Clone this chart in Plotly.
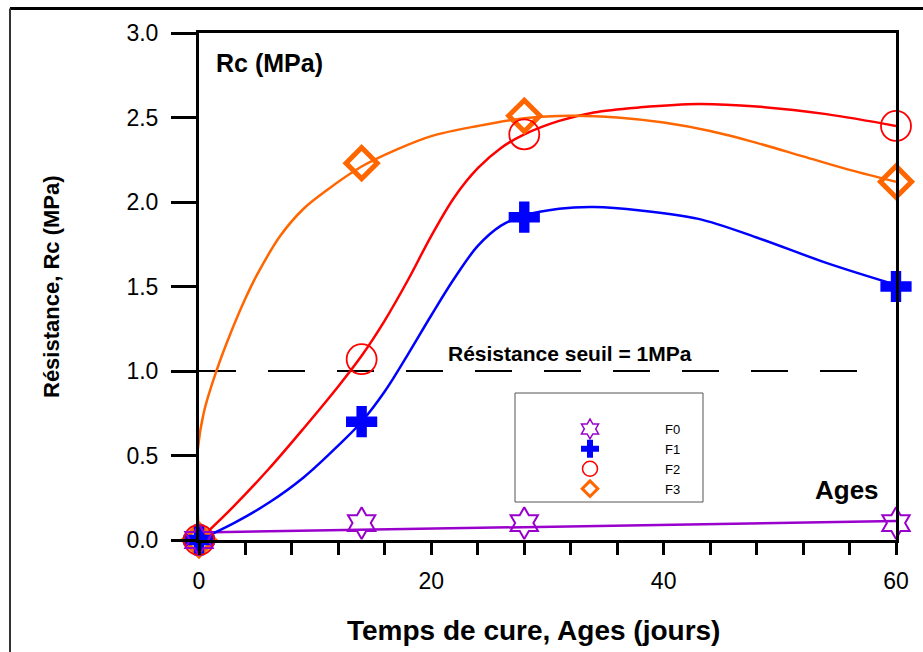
import plotly.graph_objects as go

# ---- data ----
ages = [0, 14, 28, 60]
F0 = [0.0, 0.10, 0.10, 0.10]
F1 = [0.0, 0.70, 1.91, 1.50]
F2 = [0.0, 1.07, 2.40, 2.45]
F3 = [0.0, 2.23, 2.51, 2.12]

# fitted curves
f0_cx = [0, 60]
f0_cy = [0.045, 0.112]
f1_cx = [0, 3, 6, 9, 12, 14, 16, 18, 20, 22, 24, 26, 28, 31, 34, 38, 43, 48, 54, 60]
f1_cy = [0, 0.10, 0.22, 0.37, 0.56, 0.70, 0.88, 1.10, 1.33, 1.55, 1.74, 1.86, 1.92, 1.96, 1.97, 1.95, 1.90, 1.79, 1.64, 1.51]
f2_cx = [0, 3, 6, 9, 12, 14, 16, 18, 20, 22, 24, 26, 28, 31, 34, 38, 43, 48, 54, 60]
f2_cy = [0, 0.20, 0.42, 0.66, 0.91, 1.09, 1.30, 1.54, 1.80, 2.03, 2.20, 2.32, 2.40, 2.48, 2.53, 2.56, 2.58, 2.565, 2.52, 2.45]
f3_cx = [0, -0.15, -0.15, 0.4, 1.5, 2.7, 4, 5, 7, 9, 11, 14, 17, 20, 24, 28, 32, 36, 40, 44, 48, 52, 56, 60]
f3_cy = [0, 0.25, 0.50, 0.75, 1.0, 1.22, 1.43, 1.57, 1.80, 1.96, 2.07, 2.21, 2.31, 2.39, 2.45, 2.495, 2.51, 2.50, 2.47, 2.42, 2.35, 2.27, 2.19, 2.12]

seuil = 1.0
seuil_x = [0, 57]

names = ["F0", "F1", "F2", "F3"]
colors = ["#9900CC", "#0000FF", "#FF0000", "#FF6600"]

FONT = "Arial, Liberation Sans, sans-serif"

fig = go.Figure()

curves = [(f0_cx, f0_cy), (f1_cx, f1_cy), (f2_cx, f2_cy), (f3_cx, f3_cy)]
for (cx, cy), c in zip(curves, colors):
    fig.add_trace(go.Scatter(x=cx, y=cy, mode="lines", showlegend=False,
                             line=dict(color=c, width=2.5, shape="spline", smoothing=1.0),
                             cliponaxis=False, hoverinfo="skip"))

markers = [
    dict(symbol="hexagram-open", size=24, color=colors[0], line=dict(color=colors[0], width=2)),
    dict(symbol="cross", size=26, color=colors[1], line=dict(width=0)),
    dict(symbol="circle-open", size=30, color=colors[2], line=dict(color=colors[2], width=1.8)),
    dict(symbol="diamond-open", size=24, color=colors[3], line=dict(color=colors[3], width=5)),
]
legend_markers = [
    dict(symbol="hexagram-open", size=15, color=colors[0], line=dict(color=colors[0], width=1.5)),
    dict(symbol="cross", size=15, color=colors[1], line=dict(width=0)),
    dict(symbol="circle-open", size=15, color=colors[2], line=dict(color=colors[2], width=1.5)),
    dict(symbol="diamond-open", size=12, color=colors[3], line=dict(color=colors[3], width=3)),
]
series = [F0, F1, F2, F3]
order = [3, 1, 2, 0]
for i in order:
    fig.add_trace(go.Scatter(x=ages, y=series[i], mode="markers", name=names[i], showlegend=False,
                             marker=markers[i], cliponaxis=False))
for i in range(4):
    fig.add_trace(go.Scatter(x=[None], y=[None], mode="markers", name=names[i],
                             marker=legend_markers[i], legendrank=i + 1))

# plot-area pixel geometry helpers
L, R, T, B = 199, 27, 33, 112
W, H = 923, 652
PW, PH = W - L - R, H - T - B
def px(xp):
    return (xp - L) / PW
def py(yp):
    return (H - B - yp) / PH

fig.add_shape(type="line", xref="x", yref="y", x0=seuil_x[0], x1=seuil_x[1], y0=seuil, y1=seuil,
              line=dict(color="black", width=2, dash="37px,32px"), layer="below")

# legend box
fig.add_shape(type="rect", xref="paper", yref="paper", x0=px(515), x1=px(703), y0=py(502), y1=py(393),
              line=dict(color="#555555", width=1))
# outer frame
fig.add_shape(type="line", xref="paper", yref="paper", x0=px(10), x1=px(930), y0=py(8.5), y1=py(8.5),
              line=dict(color="black", width=3))
fig.add_shape(type="line", xref="paper", yref="paper", x0=px(10), x1=px(10), y0=py(8.5), y1=py(660),
              line=dict(color="#333333", width=2))

ann = [
    dict(text="<b>Rc (MPa)</b>", x=px(214), y=py(63), xanchor="left", yanchor="middle", size=25),
    dict(text="<b>Ages</b>", x=px(881), y=py(490), xanchor="right", yanchor="middle", size=26),
    dict(text="<b>Résistance seuil = 1MPa</b>", x=px(446), y=py(353), xanchor="left", yanchor="middle", size=21),
    dict(text="<b>Temps de cure, Ages (jours)</b>", x=px(533), y=py(630), xanchor="center", yanchor="middle", size=28),
]
for a in ann:
    fig.add_annotation(text=a["text"], x=a["x"], y=a["y"], xref="paper", yref="paper",
                       xanchor=a["xanchor"], yanchor=a["yanchor"], showarrow=False,
                       font=dict(family=FONT, size=a["size"], color="black"))
fig.add_annotation(text="<b>Résistance, Rc (MPa)</b>", x=px(51.5), y=py(286.5), xref="paper", yref="paper",
                   xanchor="center", yanchor="middle", textangle=-90, showarrow=False,
                   font=dict(family=FONT, size=22, color="black"))

fig.update_layout(
    width=W, height=H,
    margin=dict(l=L, r=R, t=T, b=B, autoexpand=False),
    paper_bgcolor="white", plot_bgcolor="white",
    font=dict(family=FONT, color="black"),
    legend=dict(x=px(515), y=py(414), xanchor="left", yanchor="top",
                bgcolor="rgba(0,0,0,0)", borderwidth=0, itemwidth=140,
                font=dict(family=FONT, size=13, color="black"), tracegroupgap=0),
    xaxis=dict(range=[0, 60], tickvals=[0, 20, 40, 60], ticks="outside", ticklen=12, tickwidth=2.5,
               tickcolor="black", showline=True, linewidth=3, linecolor="black", mirror=True,
               showgrid=False, zeroline=False, tickfont=dict(family=FONT, size=23, color="black"),
               minor=dict(dtick=4, tick0=0, ticks="outside", ticklen=12, tickwidth=2.5, tickcolor="black",
                          showgrid=False),
               ticklabelstandoff=6),
    yaxis=dict(range=[0, 3], tickvals=[0, 0.5, 1.0, 1.5, 2.0, 2.5, 3.0],
               ticktext=["0.0", "0.5", "1.0", "1.5", "2.0", "2.5", "3.0"],
               ticks="outside", ticklen=25, tickwidth=2.5, tickcolor="black",
               showline=True, linewidth=3, linecolor="black", mirror=True,
               showgrid=False, zeroline=False, tickfont=dict(family=FONT, size=23, color="black"),
               ticklabelstandoff=8),
)

fig.write_html("out.html")
